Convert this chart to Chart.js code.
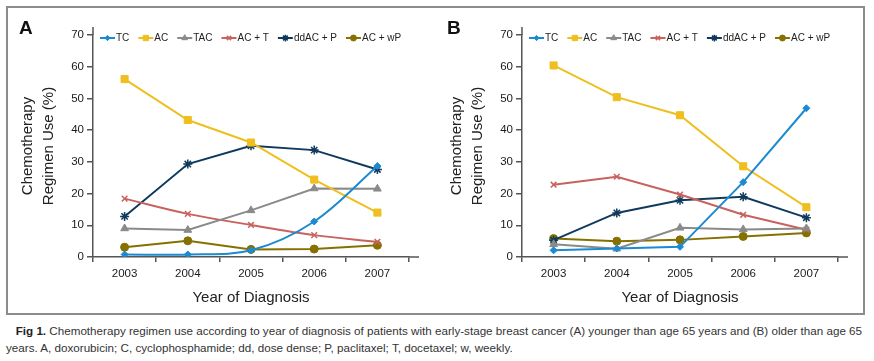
<!DOCTYPE html>
<html>
<head>
<meta charset="utf-8">
<script src="https://cdn.jsdelivr.net/npm/chart.js@4.4.0/dist/chart.umd.min.js"></script>
<style>
  body { margin: 0; background: #fff; width: 874px; height: 361px; position: relative; overflow: hidden;
         font-family: "Liberation Sans", Arial, sans-serif; }
  #frame { position: absolute; left: 6px; top: 6px; width: 855px; height: 305px; border: 2px solid #8c8c8c; }
  .panel { position: absolute; top: 8px; width: 426px; height: 305px; }
  .tag { position: absolute; top: 17px; font: bold 19px "Liberation Sans", Arial, sans-serif; color: #111; }
  #caption { position: absolute; left: 6px; top: 322px; width: 868px; font-size: 11.65px; line-height: 17px; color: #333; white-space: nowrap; }
  #caption b { color: #222; }
</style>
</head>
<body>
<div id="frame"></div>
<div class="panel" style="left:8px"><canvas id="chartA" width="426" height="305"></canvas></div>
<div class="panel" style="left:437px"><canvas id="chartB" width="426" height="305"></canvas></div>
<div class="tag" style="left:19px">A</div>
<div class="tag" style="left:447px">B</div>
<div id="caption">&nbsp;&nbsp;&nbsp;<b>Fig 1.</b> Chemotherapy regimen use according to year of diagnosis of patients with early-stage breast cancer (A) younger than age 65 years and (B) older than age 65<br>years. A, doxorubicin; C, cyclophosphamide; dd, dose dense; P, paclitaxel; T, docetaxel; w, weekly.</div>

<script>
const years = ['2003', '2004', '2005', '2006', '2007'];
const regimens = ['TC', 'AC', 'TAC', 'AC + T', 'ddAC + P', 'AC + wP'];
const yTicks = [0, 10, 20, 30, 40, 50, 60, 70];

// panel A: younger than 65
const tcA   = [0.8, 0.8, 2.1, 11.2, 28.7];
const acA   = [56.1, 43.2, 36.1, 24.4, 14.0];
const tacA  = [9.0, 8.5, 14.7, 21.6, 21.5];
const actA  = [18.4, 13.6, 10.1, 6.9, 4.8];
const ddacA = [12.8, 29.3, 35.1, 33.7, 27.6];
const wpA   = [3.1, 5.1, 2.4, 2.5, 3.7];

// panel B: older than 65
const tcB   = [2.1, 2.7, 3.2, 23.6, 46.9];
const acB   = [60.4, 50.4, 44.7, 28.6, 15.7];
const tacB  = [4.0, 2.6, 9.2, 8.7, 9.0];
const actB  = [22.8, 25.3, 19.7, 13.3, 8.6];
const ddacB = [5.3, 13.9, 17.9, 19.0, 12.4];
const wpB   = [5.8, 5.0, 5.4, 6.5, 7.6];

const FONT = '"Liberation Sans", Arial, sans-serif';
const colors = ['#1b8ad0', '#efbf1f', '#8a8a8a', '#c8625d', '#0f3a5e', '#857000'];
const styles = ['rectRot', 'rect', 'triangle', 'crossRot', 'star', 'circle'];
const radii  = [3.5, 5, 4.5, 4, 4.5, 4];

function buildSets(rows, smooth) {
  return rows.map((vals, i) => ({
    label: regimens[i],
    data: vals,
    borderColor: colors[i],
    backgroundColor: colors[i],
    borderWidth: 2,
    pointStyle: styles[i],
    pointRadius: radii[i],
    pointBorderWidth: (styles[i] === 'crossRot' || styles[i] === 'star') ? 1.5 : 1,
    tension: smooth[i] ? 0.35 : 0
  }));
}

// legend drawn inside the plot, line + marker like the original
const innerLegend = {
  id: 'innerLegend',
  afterDraw(chart) {
    const ctx = chart.ctx, a = chart.chartArea;
    ctx.save();
    // axis stubs past the plot area
    ctx.strokeStyle = '#555';
    ctx.lineWidth = 1.5;
    ctx.beginPath();
    ctx.moveTo(a.left, a.top); ctx.lineTo(a.left, a.top - 8);
    ctx.moveTo(a.right, a.bottom); ctx.lineTo(a.right + 10, a.bottom);
    ctx.stroke();

    let x = a.left + 7;
    const y = a.top + 3;
    ctx.font = '10px ' + FONT;
    ctx.textBaseline = 'middle';
    chart.data.datasets.forEach(ds => {
      ctx.strokeStyle = ds.borderColor;
      ctx.fillStyle = ds.backgroundColor;
      ctx.lineWidth = 2;
      ctx.beginPath(); ctx.moveTo(x, y); ctx.lineTo(x + 15, y); ctx.stroke();
      ctx.lineWidth = ds.pointBorderWidth;
      Chart.helpers.drawPoint(ctx, { pointStyle: ds.pointStyle, radius: ds.pointRadius * 0.75, rotation: 0, borderWidth: ds.pointBorderWidth }, x + 7.5, y);
      ctx.fillStyle = '#222';
      ctx.fillText(ds.label, x + 16, y);
      x += 16 + ctx.measureText(ds.label).width + 9;
    });
    ctx.restore();
  }
};

function makeChart(id, rows, smooth) {
  return new Chart(document.getElementById(id), {
    type: 'line',
    data: { labels: years, datasets: buildSets(rows, smooth) },
    options: {
      responsive: false,
      animation: false,
      layout: { padding: { left: 0, right: 25, top: 27, bottom: 0 } },
      plugins: { legend: { display: false }, tooltip: { enabled: false } },
      scales: {
        x: {
          type: 'category',
          offset: true,
          grid: { offset: true, drawOnChartArea: false, drawTicks: true, tickLength: 5, color: '#555', lineWidth: 1.5 },
          border: { color: '#555', width: 1.5 },
          ticks: { color: '#1a1a1a', font: { family: FONT, size: 11.5 }, padding: 5, maxRotation: 0 },
          title: { display: true, text: 'Year of Diagnosis', color: '#222', font: { family: FONT, size: 15 }, padding: { top: 4, bottom: 6 } },
          afterFit: s => { s.height = 56; }
        },
        y: {
          min: 0, max: 70,
          afterBuildTicks: s => { s.ticks = yTicks.map(v => ({ value: v })); },
          grid: { drawOnChartArea: false, drawTicks: true, tickLength: 6, color: '#555', lineWidth: 1.5 },
          border: { color: '#555', width: 1.5 },
          ticks: { color: '#1a1a1a', font: { family: FONT, size: 11.5 }, padding: 3 },
          title: { display: true, text: ['Chemotherapy', 'Regimen Use (%)'], color: '#222', font: { family: FONT, size: 15, lineHeight: 1.36 }, padding: { top: 10, bottom: 0 } },
          afterFit: s => { s.width = 85; }
        }
      }
    },
    plugins: [innerLegend]
  });
}

makeChart('chartA', [tcA, acA, tacA, actA, ddacA, wpA], [true, false, false, true, false, false]);
makeChart('chartB', [tcB, acB, tacB, actB, ddacB, wpB], [false, false, false, false, false, false]);
</script>
</body>
</html>
